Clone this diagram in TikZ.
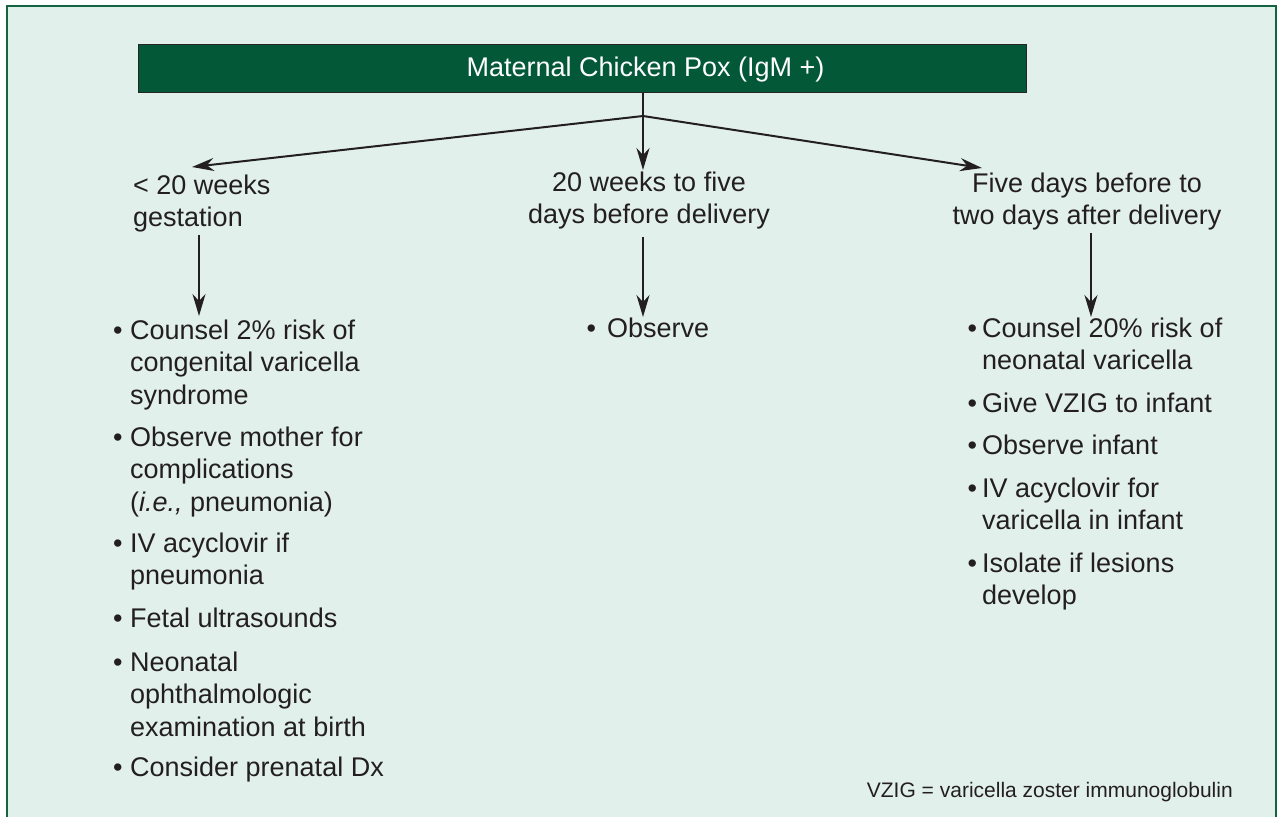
\documentclass[tikz,border=0pt]{standalone}
\usepackage{fontspec}
\setmainfont{Liberation Sans}
\usetikzlibrary{arrows.meta}
\definecolor{bg}{RGB}{226,240,236}
\definecolor{dgreen}{RGB}{3,88,56}
\definecolor{framegreen}{RGB}{20,100,65}
\definecolor{ink}{RGB}{35,31,32}
\newcommand{\bodyfont}{\fontsize{27}{32.5}\selectfont}
\begin{document}
\begin{tikzpicture}[x=1pt,y=-1pt,
  item/.style={inner sep=0pt, anchor=north west, align=left, text=ink, font=\bodyfont},
  hdrc/.style={inner sep=0pt, anchor=north, align=center, text=ink, font=\bodyfont},
  hdrl/.style={inner sep=0pt, anchor=north west, align=left, text=ink, font=\bodyfont},
  bul/.style={inner sep=0pt, anchor=base west, text=ink, font=\bodyfont},
  arr/.style={draw=ink, line width=2pt, -{Stealth[length=22pt,width=13pt,inset=7pt]}},
  ln/.style={draw=ink, line width=2pt}]
\useasboundingbox (0,0) rectangle (1278,817);
\begin{scope}
\clip (0,0) rectangle (1278,817);
\fill[white] (0,0) rectangle (1278,817);
\draw[framegreen, fill=bg, line width=2.5pt] (7,6) rectangle (1276,840);
\end{scope}
% title box
\node[draw=black!85, line width=1pt, fill=dgreen, minimum width=888pt, minimum height=48pt, inner sep=0pt] (t) at (582,68) {};
\node[inner sep=0pt, anchor=base, text=white, font=\bodyfont] (ttl) at (645.5,76) {Maternal Chicken Pox (IgM +)};
% headers
\node[hdrl] (h1) at (133,171.25) {\strut< 20 weeks\\gestation};
\node[hdrc] (h2) at (649,168.25) {\strut20 weeks to five\\days before delivery};
\node[hdrc] (h3) at (1087,169.25) {\strut Five days before to\\two days after delivery};
% connectors
\coordinate (j) at (643,116);
\coordinate (aL) at (192,167);
\coordinate (aM) at (643,170);
\coordinate (aR) at (982,168);
\draw[ln] (t.south -| j) -- (j);
\draw[arr] (t.south -| j) -- (aM);
\draw[arr] (j) -- (aL);
\draw[arr] (j) -- (aR);
\coordinate (sL) at (199,235);
\coordinate (eL) at (199,316);
\coordinate (sM) at (643,237);
\coordinate (eM) at (643,317);
\coordinate (sR) at (1091,233);
\coordinate (eR) at (1091,317);
\draw[arr] (sL) -- (eL);
\draw[arr] (sM) -- (eM);
\draw[arr] (sR) -- (eR);
% left column
\node[bul] (b1) at (113,339) {\textbullet};
\node[item] (l1) at (130,316.25) {\strut Counsel 2\% risk of\\congenital varicella\\syndrome};
\node[bul] (b2) at (113,446) {\textbullet};
\node[item] (l2) at (130,423.25) {\strut Observe mother for\\complications\\(\textit{i.e.,} pneumonia)};
\node[bul] (b3) at (113,552) {\textbullet};
\node[item] (l3) at (130,529.25) {\strut IV acyclovir if\\pneumonia};
\node[bul] (b4) at (113,627) {\textbullet};
\node[item] (l4) at (130,604.25) {\strut Fetal ultrasounds};
\node[bul] (b5) at (113,671) {\textbullet};
\node[item] (l5) at (130,648.25) {\strut Neonatal\\ophthalmologic\\examination at birth};
\node[bul] (b6) at (113,776) {\textbullet};
\node[item] (l6) at (130,753.25) {\strut Consider prenatal Dx};
% middle column
\node[bul] (bm1) at (586.5,337) {\textbullet};
\node[item] (m1) at (607,314.25) {\strut Observe};
% right column
\node[bul] (br1) at (967.5,337) {\textbullet};
\node[item] (r1) at (982,314.25) {\strut Counsel 20\% risk of\\neonatal varicella};
\node[bul] (br2) at (967.5,412) {\textbullet};
\node[item] (r2) at (982,389.25) {\strut Give VZIG to infant};
\node[bul] (br3) at (967.5,454) {\textbullet};
\node[item] (r3) at (982,431.25) {\strut Observe infant};
\node[bul] (br4) at (967.5,497) {\textbullet};
\node[item] (r4) at (982,474.25) {\strut IV acyclovir for\\varicella in infant};
\node[bul] (br5) at (967.5,572) {\textbullet};
\node[item] (r5) at (982,549.25) {\strut Isolate if lesions\\develop};
% footnote
\node[inner sep=0pt, anchor=base east, text=ink, font=\fontsize{21}{25}\selectfont] (fn) at (1233,797) {VZIG = varicella zoster immunoglobulin};
\end{tikzpicture}
\end{document}
